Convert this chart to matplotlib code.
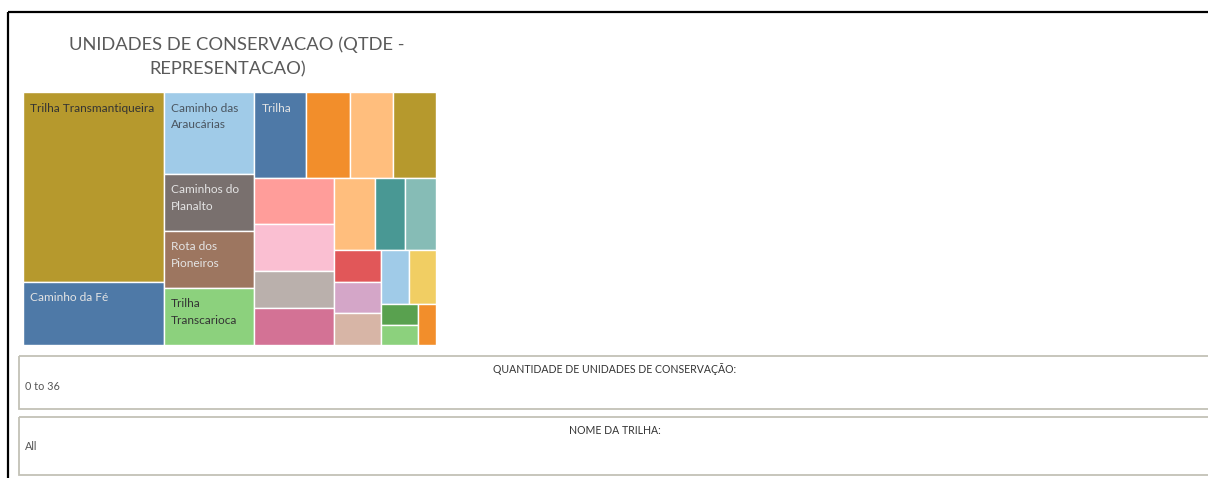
import matplotlib
matplotlib.use("Agg")
import matplotlib.pyplot as plt
from matplotlib.patches import Rectangle
from matplotlib.colors import to_rgb

# ---------------- data ----------------
trail_names = ["Trilha Transmantiqueira", "Caminho da Fé", "Caminho das Araucárias",
               "Caminhos do Planalto", "Rota dos Pioneiros", "Trilha Transcarioca",
               "Trilha", "", "", "", "", "", "", "", "", "", "", "", "", "", "", "", "", "", ""]
unit_counts = [36, 12, 10, 7, 7, 7, 6, 5, 5, 5, 5, 5, 4, 4, 4, 3, 3, 2, 2, 2, 2, 2, 1, 1, 1]
tile_colors = ["#B6992D", "#4E79A7", "#A0CBE8", "#79706E", "#9D7660", "#8CD17D",
               "#4E79A7", "#F28E2B", "#FFBE7D", "#B6992D",
               "#FF9D9A", "#FABFD2", "#BAB0AC", "#D37295",
               "#FFBE7D", "#499894", "#86BCB6",
               "#E15759", "#D4A6C8", "#D7B5A6",
               "#A0CBE8", "#F1CE63",
               "#59A14F", "#8CD17D", "#F28E2B"]
title_lines = ["UNIDADES DE CONSERVACAO (QTDE -", "REPRESENTACAO)"]
filter_titles = ["QUANTIDADE DE UNIDADES DE CONSERVAÇÃO:", "NOME DA TRILHA:"]
filter_values = ["0 to 36", "All"]

FONT = ["Lato", "DejaVu Sans"]

W_PX, H_PX = 1208, 478
fig = plt.figure(figsize=(W_PX / 100, H_PX / 100), dpi=100)
fig.patch.set_facecolor("white")

# background axes in pixel coordinates
bg = fig.add_axes([0, 0, 1, 1])
bg.set_xlim(0, W_PX)
bg.set_ylim(H_PX, 0)
bg.axis("off")

# dashboard frame (cut at right & bottom)
bg.plot([7.5, W_PX + 5], [11.5, 11.5], color="black", lw=1.6, solid_capstyle="butt")
bg.plot([8, 8], [11.5, H_PX + 5], color="black", lw=1.6, solid_capstyle="butt")

# title
bg.text(237, 45, title_lines[0], ha="center", va="center", fontsize=13.2,
        color="#5A5A5A", family=FONT)
bg.text(228, 69, title_lines[1], ha="center", va="center", fontsize=13.2,
        color="#5A5A5A", family=FONT)

# filter cards
cards = [(356, 409), (417, 475)]
for (top, bottom), ttl, val in zip(cards, filter_titles, filter_values):
    bg.add_patch(Rectangle((19, top), W_PX + 20 - 19, bottom - top, fill=False,
                           edgecolor="#C3C1B6", lw=1.3))
    bg.text(615, top + 13.5, ttl, ha="center", va="center", fontsize=7.6,
            color="#333333", family=FONT)
    bg.text(25, top + 30, val, ha="left", va="center", fontsize=7.8,
            color="#555555", family=FONT)

# ---------------- treemap ----------------
TX0, TY0, TX1, TY1 = 23, 92, 436, 345
TW, TH = TX1 - TX0, TY1 - TY0
ax = fig.add_axes([TX0 / W_PX, 1 - TY1 / H_PX, TW / W_PX, TH / H_PX])
ax.set_xlim(0, TW)
ax.set_ylim(TH, 0)
ax.axis("off")


def worst(row, scale, L):
    t = sum(row) * scale / L
    r = 0
    for a in row:
        ln = a * scale / t
        r = max(r, t / ln, ln / t)
    return r


def treemap(values, x, y, w, h, threshold=2.5):
    scale = w * h / sum(values)
    rects = []
    i, n = 0, len(values)
    while i < n:
        vertical = w >= h
        L = h if vertical else w
        row = [values[i]]
        wp = worst(row, scale, L)
        j = i + 1
        while j < n:
            cand = row + [values[j]]
            wc = worst(cand, scale, L)
            if wc <= wp or wc <= threshold:
                row, wp = cand, wc
                j += 1
            else:
                break
        if j == n:
            t = w if vertical else h
        else:
            t = sum(row) * scale / L
        off = 0
        for a in row:
            ln = a / sum(row) * L
            if vertical:
                rects.append((x, y + off, t, ln))
            else:
                rects.append((x + off, y, ln, t))
            off += ln
        if vertical:
            x += t
            w -= t
        else:
            y += t
            h -= t
        i = j
    return rects


rects = treemap(unit_counts, 0, 0, TW, TH)

renderer = fig.canvas.get_renderer()


def text_width(s, fs):
    t = fig.text(0, 0, s, fontsize=fs, family=FONT)
    wpx = t.get_window_extent(renderer).width
    t.remove()
    return wpx


LABEL_FS = 8.6
for (rx, ry, rw, rh), name, col in zip(rects, trail_names, tile_colors):
    ax.add_patch(Rectangle((rx, ry), rw, rh, facecolor=col, edgecolor="white", lw=1.0))
    if not name:
        continue
    r, g, b = to_rgb(col)
    lum = 0.299 * r + 0.587 * g + 0.114 * b
    tcol = "#333333" if lum > 0.55 else "#E4E4E4"
    if col == "#A0CBE8":
        tcol = "#4A5560"
    avail = rw - 12
    lines, cur = [], ""
    for wd in name.split():
        trial = (cur + " " + wd).strip()
        if cur and text_width(trial, LABEL_FS) > avail:
            lines.append(cur)
            cur = wd
        else:
            cur = trial
    lines.append(cur)
    for k, ln in enumerate(lines):
        yy = ry + 16 + k * 17
        if yy + 8 > ry + rh:
            break
        ax.text(rx + 7, yy, ln, ha="left", va="center", fontsize=LABEL_FS,
                color=tcol, family=FONT)

fig.savefig("out.png", dpi=100, facecolor="white")
